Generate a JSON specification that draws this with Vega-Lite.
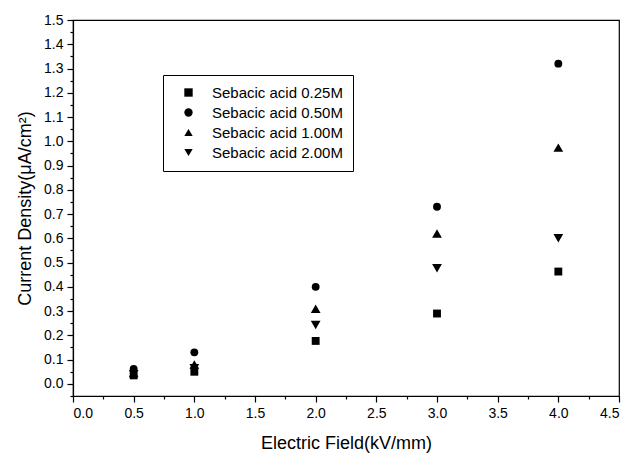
{
  "$schema": "https://vega.github.io/schema/vega-lite/v6.json",
  "width": 546,
  "height": 376,
  "autosize": {"type": "none"},
  "padding": {"left": 73, "top": 20, "right": 12, "bottom": 59},
  "background": "white",
  "config": {
    "font": "Liberation Sans",
    "view": {"stroke": "black", "strokeWidth": 1.2},
    "axis": {"grid": false, "domainColor": "black", "tickColor": "black", "labelColor": "black", "titleColor": "black", "labelFont": "Liberation Sans", "titleFont": "Liberation Sans", "labelFontSize": 14, "titleFontSize": 18, "titleFontWeight": "normal", "domainWidth": 1.2, "tickWidth": 1.2}
  },
  "data": {
    "values": [
      {"field": 0.5, "density": 0.035, "series": "Sebacic acid 0.25M"},
      {"field": 1.0, "density": 0.05, "series": "Sebacic acid 0.25M"},
      {"field": 2.0, "density": 0.177, "series": "Sebacic acid 0.25M"},
      {"field": 3.0, "density": 0.29, "series": "Sebacic acid 0.25M"},
      {"field": 4.0, "density": 0.463, "series": "Sebacic acid 0.25M"},
      {"field": 0.5, "density": 0.062, "series": "Sebacic acid 0.50M"},
      {"field": 1.0, "density": 0.13, "series": "Sebacic acid 0.50M"},
      {"field": 2.0, "density": 0.40, "series": "Sebacic acid 0.50M"},
      {"field": 3.0, "density": 0.73, "series": "Sebacic acid 0.50M"},
      {"field": 4.0, "density": 1.32, "series": "Sebacic acid 0.50M"},
      {"field": 0.5, "density": 0.045, "series": "Sebacic acid 1.00M"},
      {"field": 1.0, "density": 0.08, "series": "Sebacic acid 1.00M"},
      {"field": 2.0, "density": 0.31, "series": "Sebacic acid 1.00M"},
      {"field": 3.0, "density": 0.62, "series": "Sebacic acid 1.00M"},
      {"field": 4.0, "density": 0.974, "series": "Sebacic acid 1.00M"},
      {"field": 0.5, "density": 0.04, "series": "Sebacic acid 2.00M"},
      {"field": 1.0, "density": 0.065, "series": "Sebacic acid 2.00M"},
      {"field": 2.0, "density": 0.243, "series": "Sebacic acid 2.00M"},
      {"field": 3.0, "density": 0.477, "series": "Sebacic acid 2.00M"},
      {"field": 4.0, "density": 0.60, "series": "Sebacic acid 2.00M"}
    ]
  },
  "layer": [
    {
      "mark": {"type": "point", "filled": true, "opacity": 0, "size": 1},
      "encoding": {
        "x": {"field": "field", "type": "quantitative", "scale": {"domain": [0, 4.5], "nice": false, "zero": false},
          "axis": {"orient": "bottom", "values": [0.25, 0.75, 1.25, 1.75, 2.25, 2.75, 3.25, 3.75, 4.25], "labels": false, "domain": false, "tickSize": 3, "title": null}},
        "y": {"field": "density", "type": "quantitative", "scale": {"domain": [-0.05, 1.5], "nice": false, "zero": false},
          "axis": {"orient": "left", "values": [-0.05, 0.05, 0.15, 0.25, 0.35, 0.45, 0.55, 0.65, 0.75, 0.85, 0.95, 1.05, 1.15, 1.25, 1.35, 1.45], "labels": false, "domain": false, "tickSize": 3, "title": null}}
      }
    },
    {
      "transform": [{"filter": {"field": "series", "oneOf": ["Sebacic acid 0.25M", "Sebacic acid 0.50M"]}}],
      "mark": {"type": "point", "filled": true, "opacity": 1, "color": "black", "size": 62},
      "encoding": {
        "x": {"field": "field", "type": "quantitative", "scale": {"domain": [0, 4.5], "nice": false, "zero": false},
          "axis": {"orient": "bottom", "values": [0, 0.5, 1, 1.5, 2, 2.5, 3, 3.5, 4, 4.5], "format": ".1f", "tickSize": 6, "labelPadding": 4, "title": "Electric Field(kV/mm)", "titlePadding": 14}},
        "y": {"field": "density", "type": "quantitative", "scale": {"domain": [-0.05, 1.5], "nice": false, "zero": false},
          "axis": {"orient": "left", "values": [0, 0.1, 0.2, 0.3, 0.4, 0.5, 0.6, 0.7, 0.8, 0.9, 1.0, 1.1, 1.2, 1.3, 1.4, 1.5], "format": ".1f", "tickSize": 6, "labelPadding": 4, "title": "Current Density(μA/cm²)", "titlePadding": 9}},
        "shape": {"field": "series", "type": "nominal",
          "scale": {"domain": ["Sebacic acid 0.25M", "Sebacic acid 0.50M", "Sebacic acid 1.00M", "Sebacic acid 2.00M"], "range": ["square", "circle", "triangle-up", "triangle-down"]},
          "legend": {"title": null, "orient": "none", "legendX": 90, "legendY": 55, "strokeColor": "black", "padding": 10, "labelFontSize": 15, "labelColor": "black", "labelFont": "Liberation Sans", "symbolSize": 70, "symbolFillColor": "black", "symbolStrokeColor": "black", "symbolOffset": 8, "rowPadding": 4, "labelOffset": 16, "fillColor": "white"}}
      }
    },
    {
      "transform": [{"filter": {"field": "series", "oneOf": ["Sebacic acid 1.00M", "Sebacic acid 2.00M"]}}],
      "mark": {"type": "point", "filled": true, "opacity": 1, "color": "black", "size": 95},
      "encoding": {
        "x": {"field": "field", "type": "quantitative", "scale": {"domain": [0, 4.5], "nice": false, "zero": false}, "axis": null},
        "y": {"field": "density", "type": "quantitative", "scale": {"domain": [-0.05, 1.5], "nice": false, "zero": false}, "axis": null},
        "shape": {"field": "series", "type": "nominal",
          "scale": {"domain": ["Sebacic acid 0.25M", "Sebacic acid 0.50M", "Sebacic acid 1.00M", "Sebacic acid 2.00M"], "range": ["square", "circle", "triangle-up", "triangle-down"]}}
      }
    }
  ],
  "resolve": {"axis": {"x": "independent", "y": "independent"}}
}
